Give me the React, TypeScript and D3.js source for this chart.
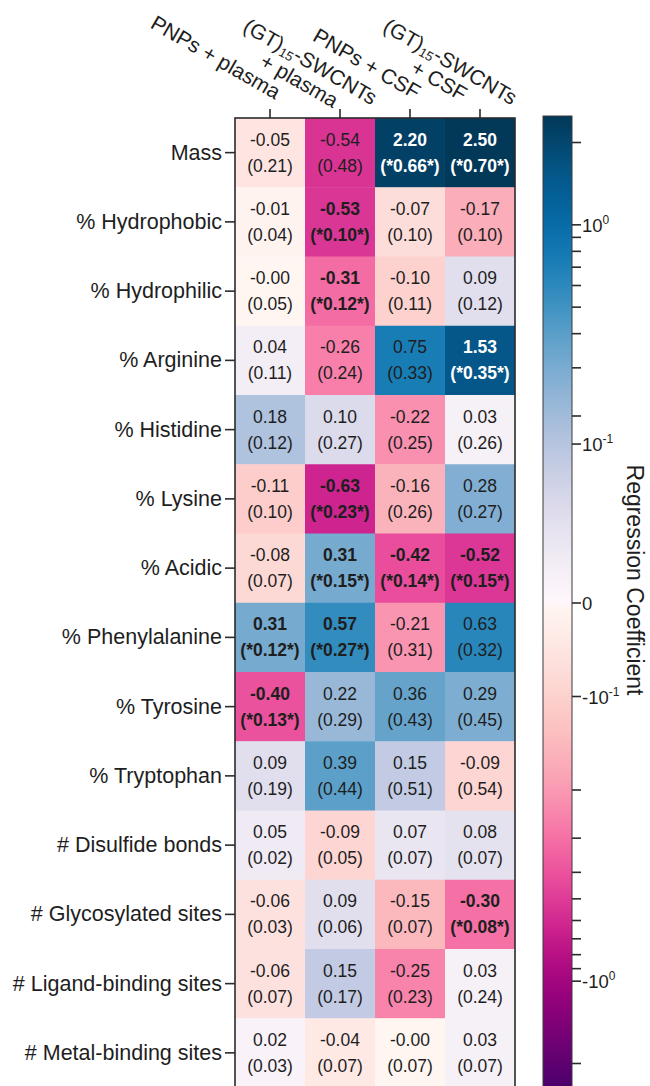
import React, { useEffect, useRef } from 'react';
import * as d3 from 'd3';

// rows of the heatmap
const features = [
  'Mass', '% Hydrophobic', '% Hydrophilic', '% Arginine', '% Histidine', '% Lysine',
  '% Acidic', '% Phenylalanine', '% Tyrosine', '% Tryptophan', '# Disulfide bonds',
  '# Glycosylated sites', '# Ligand-binding sites', '# Metal-binding sites',
];

// "|" splits lines, "_" wraps subscript
const columns = ['PNPs + plasma', '(GT)_15_-SWCNTs|+ plasma', 'PNPs + CSF', '(GT)_15_-SWCNTs|+ CSF'];

// regression coefficients, one array per column
const coefPnpPlasma = [-0.05, -0.01, -0.004, 0.04, 0.18, -0.11, -0.08, 0.31, -0.40, 0.09, 0.05, -0.06, -0.06, 0.02];
const coefSwcntPlasma = [-0.54, -0.53, -0.31, -0.26, 0.10, -0.63, 0.31, 0.57, 0.22, 0.39, -0.09, 0.09, 0.15, -0.04];
const coefPnpCsf = [2.20, -0.07, -0.10, 0.75, -0.22, -0.16, -0.42, -0.21, 0.36, 0.15, 0.07, -0.15, -0.25, -0.004];
const coefSwcntCsf = [2.50, -0.17, 0.09, 1.53, 0.03, 0.28, -0.52, 0.63, 0.29, -0.09, 0.08, -0.30, 0.03, 0.03];

// standard errors
const sePnpPlasma = [0.21, 0.04, 0.05, 0.11, 0.12, 0.10, 0.07, 0.12, 0.13, 0.19, 0.02, 0.03, 0.07, 0.03];
const seSwcntPlasma = [0.48, 0.10, 0.12, 0.24, 0.27, 0.23, 0.15, 0.27, 0.29, 0.44, 0.05, 0.06, 0.17, 0.07];
const sePnpCsf = [0.66, 0.10, 0.11, 0.33, 0.25, 0.26, 0.14, 0.31, 0.43, 0.51, 0.07, 0.07, 0.23, 0.07];
const seSwcntCsf = [0.70, 0.10, 0.12, 0.35, 0.26, 0.27, 0.15, 0.32, 0.45, 0.54, 0.07, 0.08, 0.24, 0.07];

// significant (starred) cells
const sigPnpPlasma = [0, 0, 0, 0, 0, 0, 0, 1, 1, 0, 0, 0, 0, 0];
const sigSwcntPlasma = [0, 1, 1, 0, 0, 1, 1, 1, 0, 0, 0, 0, 0, 0];
const sigPnpCsf = [1, 0, 0, 0, 0, 0, 1, 0, 0, 0, 0, 0, 0, 0];
const sigSwcntCsf = [1, 0, 0, 1, 0, 0, 1, 0, 0, 0, 0, 1, 0, 0];

// colour bar ticks
const majorTickValues = [1, 0.17, 0, -0.1, -1]; // the +10^-1 tick sits at ~0.17 as drawn
const majorTickBase = ['10', '10', '0', '-10', '-10'];
const majorTickExp = ['0', '-1', '', '-1', '0'];
const minorTickValues = [2, 0.9, 0.8, 0.7, 0.6, 0.5, 0.4, 0.3, 0.2, -0.2, -0.3, -0.4, -0.5, -0.6, -0.7, -0.8, -0.9, -2];

const W = 650;
const H = 1086;
const FONT = '"Liberation Sans", Arial, sans-serif';

const App = () => {
  const svgRef = useRef<SVGSVGElement>(null);

  useEffect(() => {
    const svg = d3.select(svgRef.current);
    svg.selectAll('*').remove();

    const coefs = [coefPnpPlasma, coefSwcntPlasma, coefPnpCsf, coefSwcntCsf];
    const ses = [sePnpPlasma, seSwcntPlasma, sePnpCsf, seSwcntCsf];
    const sigs = [sigPnpPlasma, sigSwcntPlasma, sigPnpCsf, sigSwcntCsf];
    const cells = [];
    columns.forEach((c, ci) => features.forEach((f, ri) => {
      cells.push({ col: c, row: f, v: coefs[ci][ri], se: ses[ci][ri], sig: !!sigs[ci][ri] });
    }));

    const left = 235, top = 118, cellW = 70, cellH = 69.25;
    const x = d3.scaleBand().domain(columns).range([left, left + cellW * columns.length]);
    const y = d3.scaleBand().domain(features).range([top, top + cellH * features.length]);

    // symmetric "linear near zero, log beyond" normalisation to [-1, 1]
    const linThresh = 0.2, linFrac = 0.384, vMax = 2.5;
    const linNorm = d3.scaleLinear().domain([0, linThresh]).range([0, linFrac]);
    const logNorm = d3.scaleLog().domain([linThresh, vMax]).range([linFrac, 1]).clamp(true);
    const norm = (v) => Math.sign(v) * (Math.abs(v) < linThresh ? linNorm(Math.abs(v)) : logNorm(Math.abs(v)));
    const cmap = (t) => (t >= 0 ? d3.interpolatePuBu(t) : d3.interpolateRdPu(-t));
    const color = (v) => cmap(norm(v));

    const g = svg.append('g').style('font-family', FONT);

    // cells
    const cell = g.selectAll('g.cell').data(cells).enter().append('g').attr('class', 'cell');
    cell.append('rect')
      .attr('x', d => x(d.col))
      .attr('y', d => y(d.row))
      .attr('width', x.bandwidth())
      .attr('height', y.bandwidth() + 0.5)
      .attr('fill', d => color(d.v));
    const txt = (d) => (Math.abs(norm(d.v)) > 0.8 ? '#ffffff' : '#1e1e1e');
    cell.append('text')
      .attr('x', d => x(d.col) + x.bandwidth() / 2)
      .attr('y', d => y(d.row) + y.bandwidth() / 2 - 13)
      .attr('text-anchor', 'middle')
      .attr('dominant-baseline', 'central')
      .style('font-size', '17.5px')
      .style('font-weight', d => (d.sig ? 'bold' : 'normal'))
      .attr('fill', txt)
      .text(d => d.v.toFixed(2));
    cell.append('text')
      .attr('x', d => x(d.col) + x.bandwidth() / 2)
      .attr('y', d => y(d.row) + y.bandwidth() / 2 + 13)
      .attr('text-anchor', 'middle')
      .attr('dominant-baseline', 'central')
      .style('font-size', '17.5px')
      .style('font-weight', d => (d.sig ? 'bold' : 'normal'))
      .attr('fill', txt)
      .text(d => (d.sig ? `(*${d.se.toFixed(2)}*)` : `(${d.se.toFixed(2)})`));

    // frame
    g.append('rect')
      .attr('x', left).attr('y', top)
      .attr('width', cellW * columns.length).attr('height', cellH * features.length)
      .attr('fill', 'none').attr('stroke', '#2b2b2b').attr('stroke-width', 1.6);

    // row axis
    const yAxis = g.append('g').attr('transform', `translate(${left},0)`)
      .call(d3.axisLeft(y).tickSize(10).tickPadding(3));
    yAxis.select('.domain').remove();
    yAxis.selectAll('line').attr('stroke', '#2b2b2b').attr('stroke-width', 1.6);
    yAxis.selectAll('text').style('font-size', '21.5px').style('font-family', FONT).attr('fill', '#1e1e1e');

    // column axis
    const xAxis = g.append('g').attr('transform', `translate(0,${top})`)
      .call(d3.axisTop(x).tickSize(9).tickFormat(() => ''));
    xAxis.select('.domain').remove();
    xAxis.selectAll('line').attr('stroke', '#2b2b2b').attr('stroke-width', 1.6);

    columns.forEach((c) => {
      const lines = c.split('|');
      const n = lines.length;
      const cx = x(c) + x.bandwidth() / 2;
      const lg = g.append('g')
        .attr('transform', `translate(${cx + 9 + (n - 1) * 21},${93 + (n - 1) * 15}) rotate(30)`);
      const texts = lines.map((ln, i) => {
        const t = lg.append('text')
          .attr('y', (i - (n - 1) / 2) * 22)
          .attr('dominant-baseline', 'central')
          .attr('text-anchor', 'middle')
          .style('font-size', '21px')
          .attr('fill', '#1e1e1e');
        ln.split('_').forEach((part, pi) => {
          if (!part) return;
          if (pi % 2 === 1) {
            t.append('tspan').text(part).style('font-size', '13px').attr('dy', 6);
          } else {
            t.append('tspan').text(part).attr('dy', pi > 0 ? -6 : 0);
          }
        });
        return t;
      });
      const widths = texts.map(t => t.node().getComputedTextLength());
      const wMax = d3.max(widths);
      texts.forEach(t => t.attr('x', -wMax / 2));
    });

    // colour bar
    const cbX = 543, cbW = 29, cbTop = 116, cbBottom = 1090;
    const cbY = d3.scaleLinear().domain([-1, 1]).range([cbBottom, cbTop]);
    const defs = svg.append('defs');
    const grad = defs.append('linearGradient').attr('id', 'cbGrad')
      .attr('x1', 0).attr('y1', 0).attr('x2', 0).attr('y2', 1);
    d3.range(0, 201).forEach(i => {
      const t = 1 - (2 * i) / 200;
      grad.append('stop').attr('offset', `${i / 2}%`).attr('stop-color', cmap(t));
    });
    g.append('rect')
      .attr('x', cbX).attr('y', cbTop).attr('width', cbW).attr('height', cbBottom - cbTop)
      .attr('fill', 'url(#cbGrad)').attr('stroke', '#3a3a3a').attr('stroke-width', 1);

    const cbTicks = g.append('g');
    cbTicks.selectAll('line.minor').data(minorTickValues).enter().append('line')
      .attr('x1', cbX + cbW).attr('x2', cbX + cbW + 9)
      .attr('y1', d => cbY(norm(d))).attr('y2', d => cbY(norm(d)))
      .attr('stroke', '#2b2b2b').attr('stroke-width', 1.6);
    majorTickValues.forEach((v, i) => {
      const ty = cbY(norm(v));
      cbTicks.append('line')
        .attr('x1', cbX + cbW).attr('x2', cbX + cbW + 9)
        .attr('y1', ty).attr('y2', ty)
        .attr('stroke', '#2b2b2b').attr('stroke-width', 1.6);
      const t = cbTicks.append('text')
        .attr('x', cbX + cbW + 10).attr('y', ty + 7)
        .style('font-size', '18.5px').attr('fill', '#1e1e1e');
      t.append('tspan').text(majorTickBase[i]);
      if (majorTickExp[i]) {
        t.append('tspan').text(majorTickExp[i]).style('font-size', '12px').attr('dy', -8);
      }
    });

    g.append('text')
      .attr('transform', `translate(627,580) rotate(90)`)
      .attr('text-anchor', 'middle')
      .style('font-size', '23px')
      .attr('fill', '#1e1e1e')
      .text('Regression Coefficient');
  }, []);

  return (
    <div style={{ position: 'absolute', left: 0, top: 0 }}>
      <svg ref={svgRef} width={W} height={H} style={{ display: 'block' }}></svg>
    </div>
  );
};

export default App;
